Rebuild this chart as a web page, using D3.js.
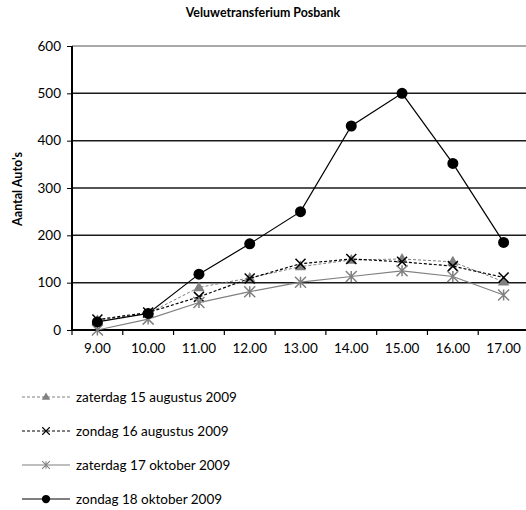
<!DOCTYPE html>
<html>
<head>
  <title>Veluwetransferium Posbank</title>
  <script src="https://d3js.org/d3.v7.min.js"></script>
  <style>
    body { margin: 0; background: #fff; }
    text { font-family: Lato, "Open Sans", sans-serif; }
  </style>
</head>
<body>
  <div id="chart"></div>

  <script>
    var hours = ["9.00", "10.00", "11.00", "12.00", "13.00", "14.00", "15.00", "16.00", "17.00"];
    var yTicks = [0, 100, 200, 300, 400, 500, 600];

    var seriesNames = [
      "zaterdag 15 augustus 2009",
      "zondag 16 augustus 2009",
      "zaterdag 17 oktober 2009",
      "zondag 18 oktober 2009"
    ];
    var zat15aug = [20, 35, 90, 110, 134, 148, 150, 144, 102];
    var zon16aug = [22, 37, 70, 109, 140, 150, 144, 135, 111];
    var zat17okt = [0, 23, 58, 81, 101, 113, 125, 113, 74];
    var zon18okt = [17, 35, 118, 182, 250, 431, 500, 352, 185];

    var series = [
      { name: seriesNames[0], values: zat15aug, color: "#808080", dash: "3,2", marker: "triangle", width: 1 },
      { name: seriesNames[1], values: zon16aug, color: "#000000", dash: "3,2", marker: "x", width: 1.2 },
      { name: seriesNames[2], values: zat17okt, color: "#808080", dash: null, marker: "star", width: 1.2 },
      { name: seriesNames[3], values: zon18okt, color: "#000000", dash: null, marker: "circle", width: 1.2 }
    ];

    var width = 526, height = 510;
    var plot = { left: 72, right: 529, top: 46, bottom: 330 };

    var svg = d3.select("#chart").append("svg")
      .attr("width", width)
      .attr("height", height);

    var x = d3.scaleBand().domain(hours).range([plot.left, plot.right]);
    var y = d3.scaleLinear().domain([0, 600]).range([plot.bottom, plot.top]);

    // title
    svg.append("text")
      .attr("x", 263).attr("y", 17)
      .attr("text-anchor", "middle")
      .attr("font-size", 12.4).attr("font-weight", "bold")
      .text("Veluwetransferium Posbank");

    // y label
    svg.append("text")
      .attr("transform", "translate(22," + 189 + ") rotate(-90)")
      .attr("text-anchor", "middle")
      .attr("font-size", 12.5).attr("font-weight", "bold")
      .text("Aantal Auto's");

    // gridlines
    svg.append("g").selectAll("line")
      .data(yTicks.filter(function(d) { return d > 0; }))
      .enter().append("line")
      .attr("x1", plot.left).attr("x2", plot.right)
      .attr("y1", function(d) { return y(d); })
      .attr("y2", function(d) { return y(d); })
      .attr("stroke", function(d) { return d === 600 ? "#8c8c8c" : "#1a1a1a"; })
      .attr("stroke-width", 1.5);

    // y axis
    var yAxis = svg.append("g")
      .attr("transform", "translate(" + plot.left + ",0)")
      .call(d3.axisLeft(y).tickValues(yTicks).tickSize(5).tickPadding(6));
    yAxis.select(".domain").attr("stroke-width", 2).attr("d", "M0," + plot.bottom + "V" + plot.top);
    yAxis.selectAll("text").attr("font-size", 13.5).attr("fill", "#000");

    // x axis
    var xAxis = svg.append("g")
      .attr("transform", "translate(0," + plot.bottom + ")")
      .call(d3.axisBottom(x).tickSize(0).tickPadding(13));
    xAxis.select(".domain").attr("stroke-width", 2).attr("d", "M" + plot.left + ",0H" + plot.right);
    xAxis.selectAll("text").attr("font-size", 13.5).attr("fill", "#000");
    // tick marks between categories
    xAxis.selectAll(".sep")
      .data(hours)
      .enter().append("line")
      .attr("class", "sep")
      .attr("x1", function(d) { return x(d); })
      .attr("x2", function(d) { return x(d); })
      .attr("y1", 0).attr("y2", 5)
      .attr("stroke", "#000").attr("stroke-width", 1.2);

    function drawMarker(g, type, color, cx, cy) {
      if (type === "circle") {
        g.append("circle").attr("cx", cx).attr("cy", cy).attr("r", 5.5).attr("fill", color);
      } else if (type === "triangle") {
        g.append("path")
          .attr("d", d3.symbol().type(d3.symbolTriangle).size(55)())
          .attr("transform", "translate(" + cx + "," + (cy + 0.5) + ")")
          .attr("fill", color);
      } else if (type === "x") {
        var s = 5;
        g.append("path")
          .attr("d", "M" + (cx - s) + "," + (cy - s) + "L" + (cx + s) + "," + (cy + s) +
                     "M" + (cx - s) + "," + (cy + s) + "L" + (cx + s) + "," + (cy - s))
          .attr("stroke", color).attr("stroke-width", 1.5).attr("fill", "none");
      } else if (type === "star") {
        var r = 5.5;
        g.append("path")
          .attr("d", "M" + (cx - r) + "," + (cy - r) + "L" + (cx + r) + "," + (cy + r) +
                     "M" + (cx - r) + "," + (cy + r) + "L" + (cx + r) + "," + (cy - r) +
                     "M" + cx + "," + (cy - r) + "L" + cx + "," + (cy + r))
          .attr("stroke", color).attr("stroke-width", 1.5).attr("fill", "none");
      }
    }

    var line = d3.line()
      .x(function(d, i) { return x(hours[i]) + x.bandwidth() / 2; })
      .y(function(d) { return y(d); });

    series.forEach(function(s) {
      var g = svg.append("g");
      g.append("path")
        .attr("d", line(s.values))
        .attr("fill", "none")
        .attr("stroke", s.color)
        .attr("stroke-width", s.width)
        .attr("stroke-dasharray", s.dash);
      s.values.forEach(function(v, i) {
        drawMarker(g, s.marker, s.color, x(hours[i]) + x.bandwidth() / 2, y(v));
      });
    });

    // legend
    var legend = svg.append("g");
    series.forEach(function(s, i) {
      var ly = 397 + i * 34;
      var g = legend.append("g");
      g.append("line")
        .attr("x1", 22).attr("x2", 70).attr("y1", ly).attr("y2", ly)
        .attr("stroke", s.color).attr("stroke-width", s.width)
        .attr("stroke-dasharray", s.dash);
      var ms = { circle: 0.75, triangle: 0.75, x: 0.75, star: 0.7 }[s.marker];
      var mg = g.append("g").attr("transform", "translate(46," + ly + ") scale(" + ms + ")");
      drawMarker(mg, s.marker, s.color, 0, 0);
      g.append("text")
        .attr("x", 76).attr("y", ly + 4.5)
        .attr("font-size", 13.5)
        .text(s.name);
    });
  </script>
</body>
</html>
